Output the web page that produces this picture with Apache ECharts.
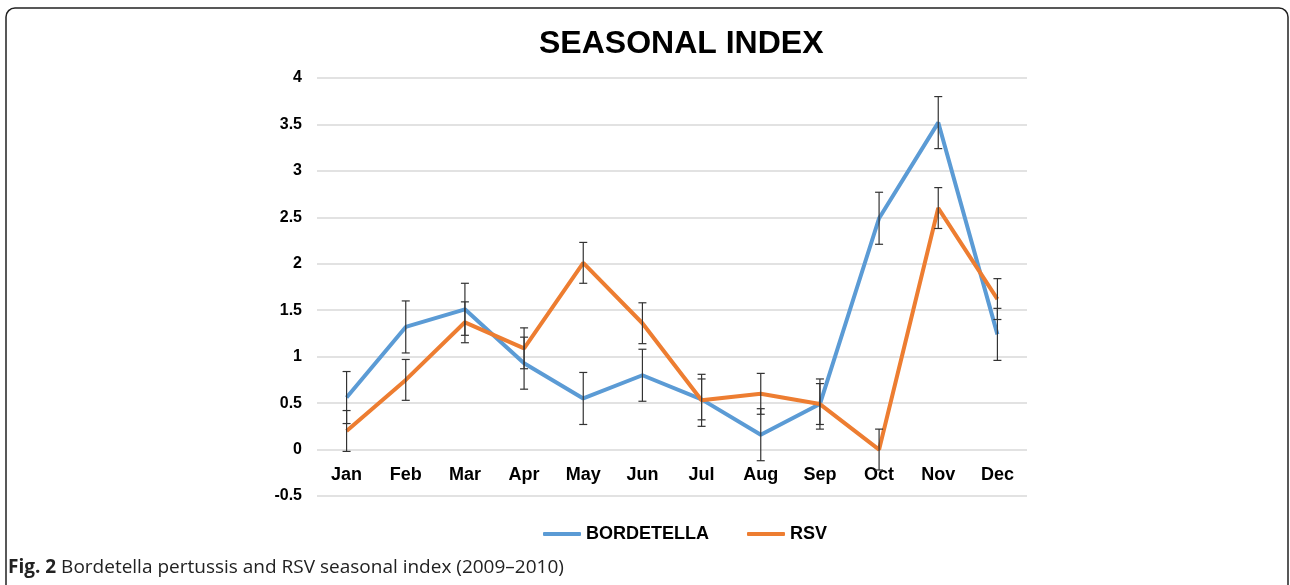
<!DOCTYPE html>
<html lang="en" style="height: 100%">
<head>
  <meta charset="utf-8">
</head>
<body style="height: 100%; margin: 0; background: #fff">
  <div id="container" style="width: 1290px; height: 585px"></div>
  <script src="https://cdn.jsdelivr.net/npm/echarts@6/dist/echarts.min.js"></script>
  <script type="text/javascript">
    var months = ['Jan', 'Feb', 'Mar', 'Apr', 'May', 'Jun', 'Jul', 'Aug', 'Sep', 'Oct', 'Nov', 'Dec'];
    var bordetella = [0.56, 1.32, 1.51, 0.93, 0.55, 0.80, 0.54, 0.16, 0.49, 2.49, 3.52, 1.24];
    var bordetellaErr = [0.28, 0.28, 0.28, 0.28, 0.28, 0.28, 0.22, 0.28, 0.27, 0.28, 0.28, 0.28];
    var rsv = [0.20, 0.75, 1.37, 1.09, 2.01, 1.36, 0.53, 0.60, 0.49, 0.00, 2.60, 1.62];
    var rsvErr = [0.22, 0.22, 0.22, 0.22, 0.22, 0.22, 0.28, 0.22, 0.22, 0.22, 0.22, 0.22];

    var dom = document.getElementById('container');
    var myChart = echarts.init(dom, null, { renderer: 'canvas' });

    // error bar data: [index, value, err]
    function errData(vals, errs) {
      return vals.map(function (v, i) { return [i, v, errs[i]]; });
    }

    function renderErr(params, api) {
      var i = api.value(0);
      var v = api.value(1);
      var e = api.value(2);
      var top = api.coord([i, v + e]);
      var bot = api.coord([i, v - e]);
      var st = { stroke: '#333', lineWidth: 1.2 };
      return {
        type: 'group',
        children: [
          { type: 'line', shape: { x1: top[0], y1: top[1], x2: bot[0], y2: bot[1] }, style: st },
          { type: 'line', shape: { x1: top[0] - 4, y1: top[1], x2: top[0] + 4, y2: top[1] }, style: st },
          { type: 'line', shape: { x1: bot[0] - 4, y1: bot[1], x2: bot[0] + 4, y2: bot[1] }, style: st }
        ]
      };
    }

    var font = 'Liberation Sans, Arial, sans-serif';

    var option = {
      animation: false,
      title: {
        text: 'SEASONAL INDEX',
        left: 534,
        top: 23,
        textStyle: { fontFamily: font, fontSize: 32, fontWeight: 'bold', color: '#000' }
      },
      legend: {
        data: [
          { name: 'BORDETELLA', icon: 'roundRect' },
          { name: 'RSV', icon: 'roundRect' }
        ],
        left: 538,
        top: 520,
        itemWidth: 38,
        itemHeight: 4,
        itemGap: 38,
        textStyle: { fontFamily: font, fontSize: 18, fontWeight: 'bold', color: '#000' }
      },
      grid: { left: 317, right: 263, top: 78, bottom: 89, containLabel: false },
      xAxis: {
        type: 'category',
        data: months,
        boundaryGap: true,
        // labels sit just under the zero line, like Excel
        offset: -46,
        axisLine: { show: false, onZero: false },
        axisTick: { show: false },
        axisLabel: { fontFamily: font, fontSize: 18, fontWeight: 'bold', color: '#000', margin: 16 }
      },
      yAxis: {
        type: 'value',
        min: -0.5,
        max: 4,
        interval: 0.5,
        axisLine: { show: false },
        axisTick: { show: false },
        splitLine: { lineStyle: { color: '#d9d9d9', width: 1.5 } },
        axisLabel: { fontFamily: font, fontSize: 16, fontWeight: 'bold', color: '#000', margin: 15 }
      },
      series: [
        {
          name: 'BORDETELLA',
          type: 'line',
          data: bordetella,
          symbol: 'none',
          lineStyle: { color: '#5b9bd5', width: 4 },
          itemStyle: { color: '#5b9bd5' }
        },
        {
          name: 'RSV',
          type: 'line',
          data: rsv,
          symbol: 'none',
          lineStyle: { color: '#ed7d31', width: 4 },
          itemStyle: { color: '#ed7d31' }
        },
        {
          type: 'custom',
          renderItem: renderErr,
          encode: { x: 0, y: 1 },
          data: errData(bordetella, bordetellaErr),
          z: 5
        },
        {
          type: 'custom',
          renderItem: renderErr,
          encode: { x: 0, y: 1 },
          data: errData(rsv, rsvErr),
          z: 5
        }
      ],
      graphic: [
        {
          type: 'rect',
          shape: { x: 6, y: 8, width: 1282, height: 600, r: 9 },
          style: { fill: 'none', stroke: '#222', lineWidth: 1.5 },
          silent: true
        },
        {
          type: 'text',
          left: 8,
          top: 558,
          style: {
            text: '{b|Fig. 2} Bordetella pertussis and RSV seasonal index (2009\u20132010)',
            fontFamily: 'Open Sans, sans-serif',
            fontSize: 19,
            fill: '#222',
            rich: {
              b: { fontFamily: 'Open Sans, sans-serif', fontSize: 19, fontWeight: 'bold', fill: '#222' }
            }
          }
        }
      ]
    };

    myChart.setOption(option);
    window.addEventListener('resize', myChart.resize);
  </script>
</body>
</html>
